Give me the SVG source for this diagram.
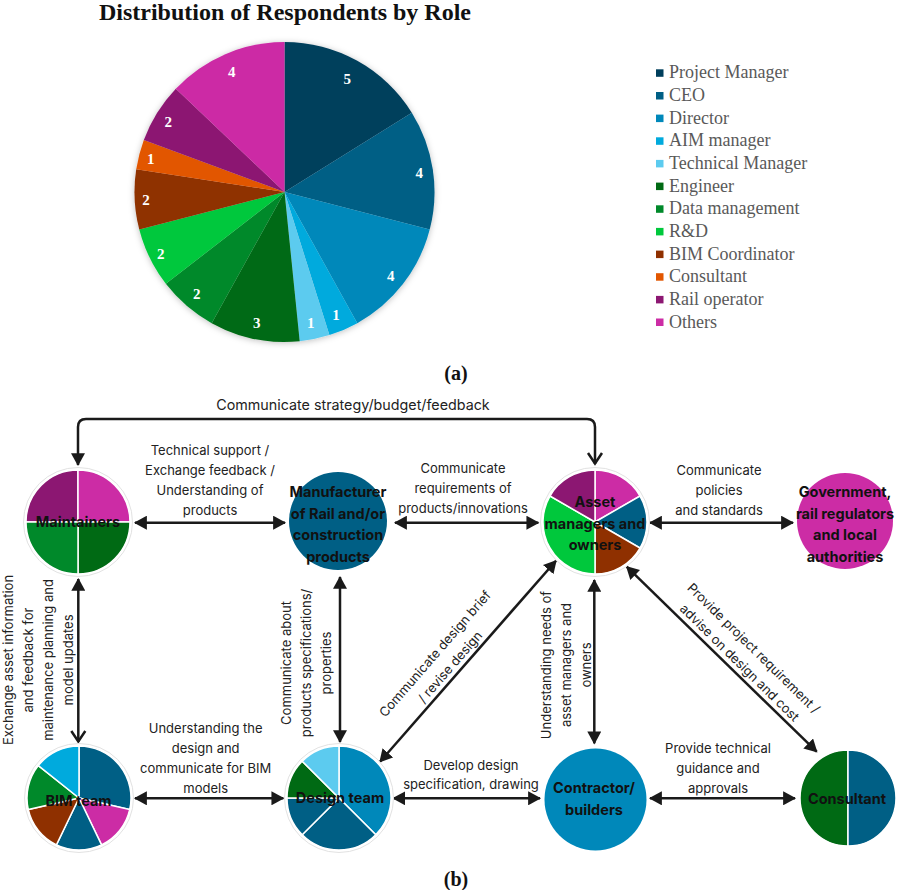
<svg xmlns="http://www.w3.org/2000/svg" width="899" height="890" viewBox="0 0 899 890">
<style>
.title{font-family:"Liberation Serif","Times New Roman",serif;font-weight:bold;font-size:24px;fill:#111;text-anchor:middle}
.num{font-family:"Liberation Serif","Times New Roman",serif;font-weight:bold;font-size:15px;fill:#fff;text-anchor:middle}
.leg{font-family:"Liberation Serif","Times New Roman",serif;font-size:18px;fill:#595959}
.cap{font-family:"Liberation Serif","Times New Roman",serif;font-weight:bold;font-size:20px;fill:#111;text-anchor:middle}
.nl{font-family:Inter,"Liberation Sans",Arial,sans-serif;font-weight:bold;font-size:14.5px;fill:#111;text-anchor:middle}
.el{font-family:Inter,"Liberation Sans",Arial,sans-serif;font-size:13px;fill:#222;text-anchor:middle}
.sec{stroke:#fff;stroke-width:1.5}
.ring{fill:#fff;stroke:#e2e2e2;stroke-width:1}
.con{fill:none;stroke:#1a1a1a;stroke-width:2.5}
.c-pm{fill:#003f5c}.c-ceo{fill:#005f85}.c-dir{fill:#0088ba}.c-aim{fill:#00aadd}.c-tech{fill:#5ccbef}
.c-eng{fill:#006a14}.c-data{fill:#00892a}.c-rd{fill:#00c83c}.c-bim{fill:#8f3000}.c-cons{fill:#e25600}
.c-rail{fill:#8c1772}.c-oth{fill:#cc2ca5}
</style>
<defs>
<marker id="fa" markerUnits="userSpaceOnUse" markerWidth="14" markerHeight="14" refX="11" refY="6.5" orient="auto-start-reverse" viewBox="0 0 13 13">
<path d="M0,0 L12,6.5 L0,13 z" fill="#1a1a1a"/>
</marker>
<marker id="oa" markerUnits="userSpaceOnUse" markerWidth="16" markerHeight="18" refX="11" refY="8" orient="auto-start-reverse" viewBox="-2 0 16 16">
<path d="M0,1 L10.5,8 L0,15" fill="none" stroke="#1a1a1a" stroke-width="2.5"/>
</marker>
<filter id="sh" x="-10%" y="-10%" width="120%" height="120%">
<feDropShadow dx="0" dy="1" stdDeviation="3" flood-color="#000" flood-opacity="0.25"/>
</filter>
</defs>
<rect width="899" height="890" fill="#fff"/>

<!-- (a) Pie chart -->
<g id="pie-chart">
<text class="title" x="285" y="20">Distribution of Respondents by Role</text>
<g filter="url(#sh)">
<path class="c-pm" d="M284.5,192 L284.5,42 A150,150 0 0,1 411.79,112.65 Z"/>
<path class="c-ceo" d="M284.5,192 L411.79,112.65 A150,150 0 0,1 429.72,229.6 Z"/>
<path class="c-dir" d="M284.5,192 L429.72,229.6 A150,150 0 0,1 357.3,323.15 Z"/>
<path class="c-aim" d="M284.5,192 L357.3,323.15 A150,150 0 0,1 329.41,335.12 Z"/>
<path class="c-tech" d="M284.5,192 L329.41,335.12 A150,150 0 0,1 299.68,341.23 Z"/>
<path class="c-eng" d="M284.5,192 L299.68,341.23 A150,150 0 0,1 211.7,323.15 Z"/>
<path class="c-data" d="M284.5,192 L211.7,323.15 A150,150 0 0,1 165.85,283.79 Z"/>
<path class="c-rd" d="M284.5,192 L165.85,283.79 A150,150 0 0,1 139.28,229.6 Z"/>
<path class="c-bim" d="M284.5,192 L139.28,229.6 A150,150 0 0,1 136.22,169.29 Z"/>
<path class="c-cons" d="M284.5,192 L136.22,169.29 A150,150 0 0,1 143.83,139.91 Z"/>
<path class="c-rail" d="M284.5,192 L143.83,139.91 A150,150 0 0,1 175.8,88.65 Z"/>
<path class="c-oth" d="M284.5,192 L175.8,88.65 A150,150 0 0,1 284.5,42 Z"/>
</g>
<text class="num" x="347.3" y="83.5">5</text>
<text class="num" x="419.3" y="177.5">4</text>
<text class="num" x="390.7" y="281">4</text>
<text class="num" x="336" y="319.5">1</text>
<text class="num" x="310.7" y="328">1</text>
<text class="num" x="256.7" y="328">3</text>
<text class="num" x="196.7" y="299">2</text>
<text class="num" x="160.7" y="258.5">2</text>
<text class="num" x="146" y="205">2</text>
<text class="num" x="150.7" y="163.5">1</text>
<text class="num" x="168.3" y="127">2</text>
<text class="num" x="231.7" y="77">4</text>
</g>

<g id="legend">
<rect class="c-pm" x="656" y="69.3" width="7.5" height="7.5"/><text class="leg" x="669" y="78.3">Project Manager</text>
<rect class="c-ceo" x="656" y="92" width="7.5" height="7.5"/><text class="leg" x="669" y="101">CEO</text>
<rect class="c-dir" x="656" y="114.6" width="7.5" height="7.5"/><text class="leg" x="669" y="123.6">Director</text>
<rect class="c-aim" x="656" y="137.3" width="7.5" height="7.5"/><text class="leg" x="669" y="146.3">AIM manager</text>
<rect class="c-tech" x="656" y="159.9" width="7.5" height="7.5"/><text class="leg" x="669" y="168.9">Technical Manager</text>
<rect class="c-eng" x="656" y="182.6" width="7.5" height="7.5"/><text class="leg" x="669" y="191.6">Engineer</text>
<rect class="c-data" x="656" y="205.3" width="7.5" height="7.5"/><text class="leg" x="669" y="214.3">Data management</text>
<rect class="c-rd" x="656" y="227.9" width="7.5" height="7.5"/><text class="leg" x="669" y="236.9">R&amp;D</text>
<rect class="c-bim" x="656" y="250.6" width="7.5" height="7.5"/><text class="leg" x="669" y="259.6">BIM Coordinator</text>
<rect class="c-cons" x="656" y="273.2" width="7.5" height="7.5"/><text class="leg" x="669" y="282.2">Consultant</text>
<rect class="c-rail" x="656" y="295.9" width="7.5" height="7.5"/><text class="leg" x="669" y="304.9">Rail operator</text>
<rect class="c-oth" x="656" y="318.5" width="7.5" height="7.5"/><text class="leg" x="669" y="327.5">Others</text>
</g>

<text class="cap" x="456" y="380">(a)</text>
<text class="cap" x="456" y="886">(b)</text>

<!-- (b) Network -->
<g id="connectors">
<path class="con" d="M595,464 L595,427 Q595,419 587,419 L86,419 Q78,419 78,427 L78,465" marker-start="url(#oa)" marker-end="url(#fa)"/>
<line class="con" x1="135" y1="522.7" x2="285" y2="522.7" marker-start="url(#fa)" marker-end="url(#fa)"/>
<line class="con" x1="395" y1="522.7" x2="538.3" y2="522.7" marker-start="url(#fa)" marker-end="url(#fa)"/>
<line class="con" x1="650" y1="522.7" x2="793" y2="522.7" marker-start="url(#fa)" marker-end="url(#fa)"/>
<line class="con" x1="78.3" y1="579" x2="78.3" y2="742" marker-start="url(#fa)" marker-end="url(#oa)"/>
<line class="con" x1="340" y1="577" x2="340" y2="742" marker-start="url(#fa)" marker-end="url(#fa)"/>
<line class="con" x1="135" y1="798.3" x2="283.3" y2="798.3" marker-start="url(#fa)" marker-end="url(#fa)"/>
<line class="con" x1="393.3" y1="798.3" x2="540" y2="798.3" marker-start="url(#fa)" marker-end="url(#fa)"/>
<line class="con" x1="594.3" y1="580" x2="594.3" y2="743.3" marker-start="url(#fa)" marker-end="url(#fa)"/>
<line class="con" x1="380" y1="761.7" x2="556" y2="560.7" marker-start="url(#fa)" marker-end="url(#fa)"/>
<line class="con" x1="626.7" y1="566.7" x2="816.7" y2="751.7" marker-start="url(#fa)" marker-end="url(#fa)"/>
<line class="con" x1="650" y1="798.3" x2="795" y2="798.3" marker-start="url(#fa)" marker-end="url(#fa)"/>

<text class="el" x="353" y="410" style="font-size:14.3px">Communicate strategy/budget/feedback</text>
<text class="el" x="210" y="455.2">Technical support /</text>
<text class="el" x="210" y="475.2">Exchange feedback /</text>
<text class="el" x="210" y="495.2">Understanding of</text>
<text class="el" x="210" y="515.2">products</text>
<text class="el" x="463" y="472.5">Communicate</text>
<text class="el" x="463" y="492.5">requirements of</text>
<text class="el" x="463" y="512.5">products/innovations</text>
<text class="el" x="719" y="474.5">Communicate</text>
<text class="el" x="719" y="494.5">policies</text>
<text class="el" x="719" y="514.5">and standards</text>
<g transform="translate(0,660) rotate(-90)">
<text class="el" x="0" y="12.8">Exchange asset information</text>
<text class="el" x="0" y="32.8">and feedback for</text>
<text class="el" x="0" y="52.8">maintenance planning and</text>
<text class="el" x="0" y="72.8">model updates</text>
</g>
<g transform="translate(0,663) rotate(-90)">
<text class="el" x="0" y="290.5">Communicate about</text>
<text class="el" x="0" y="310.5">products specifications/</text>
<text class="el" x="0" y="330.5">properties</text>
</g>
<text class="el" x="205.7" y="732.8">Understanding the</text>
<text class="el" x="205.7" y="752.8">design and</text>
<text class="el" x="205.7" y="772.8">communicate for BIM</text>
<text class="el" x="205.7" y="792.8">models</text>
<text class="el" x="471" y="769.5">Develop design</text>
<text class="el" x="471" y="789">specification, drawing</text>
<g transform="translate(0,665) rotate(-90)">
<text class="el" x="0" y="550.5">Understanding needs of</text>
<text class="el" x="0" y="570.5">asset managers and</text>
<text class="el" x="0" y="590.5">owners</text>
</g>
<g transform="translate(442.5,660.4) rotate(-49)">
<text class="el" x="0" y="-5.5">Communicate design brief</text>
<text class="el" x="0" y="14.5">/ revise design</text>
</g>
<g transform="translate(746.5,655.5) rotate(44.5)">
<text class="el" x="0" y="-5.5">Provide project requirement /</text>
<text class="el" x="0" y="14.5">advise on design and cost</text>
</g>
<text class="el" x="718" y="752.8">Provide technical</text>
<text class="el" x="718" y="772.8">guidance and</text>
<text class="el" x="718" y="792.8">approvals</text>
</g>

<g id="maintainers">
<circle class="ring" cx="78" cy="522" r="54.5"/>
<path class="c-rail sec" d="M78,522 L78,470 A52,52 0 0,0 26,522 Z"/>
<path class="c-oth sec" d="M78,522 L78,470 A52,52 0 0,1 130,522 Z"/>
<path class="c-eng sec" d="M78,522 L130,522 A52,52 0 0,1 78,574 Z"/>
<path class="c-data sec" d="M78,522 L78,574 A52,52 0 0,1 26,522 Z"/>
<text class="nl" x="78" y="527">Maintainers</text>
</g>

<g id="manufacturer">
<circle class="c-ceo" cx="338" cy="521" r="49"/>
<text class="nl" x="338" y="497">Manufacturer</text>
<text class="nl" x="338" y="518.5">of Rail and/or</text>
<text class="nl" x="338" y="540">construction</text>
<text class="nl" x="338" y="561.5">products</text>
</g>

<g id="asset-managers">
<circle class="ring" cx="595" cy="522" r="54.5"/>
<path class="c-oth sec" d="M595,522 L595,470 A52,52 0 0,1 640.03,496 Z"/>
<path class="c-ceo sec" d="M595,522 L640.03,496 A52,52 0 0,1 640.03,548 Z"/>
<path class="c-bim sec" d="M595,522 L640.03,548 A52,52 0 0,1 595,574 Z"/>
<path class="c-rd sec" d="M595,522 L595,574 A52,52 0 0,1 549.97,496 Z"/>
<path class="c-rail sec" d="M595,522 L549.97,496 A52,52 0 0,1 595,470 Z"/>
<text class="nl" x="595" y="507">Asset</text>
<text class="nl" x="595" y="528.5">managers and</text>
<text class="nl" x="595" y="550">owners</text>
</g>

<g id="government">
<circle class="c-oth" cx="845" cy="521" r="48"/>
<text class="nl" x="845" y="497">Government,</text>
<text class="nl" x="845" y="518.5">rail regulators</text>
<text class="nl" x="845" y="540">and local</text>
<text class="nl" x="845" y="561.5">authorities</text>
</g>

<g id="bim-team">
<circle class="ring" cx="79" cy="798" r="54.5"/>
<path class="c-ceo sec" d="M79,798 L79,746 A52,52 0 0,1 129.7,809.57 Z"/>
<path class="c-oth sec" d="M79,798 L129.7,809.57 A52,52 0 0,1 101.56,844.85 Z"/>
<path class="c-ceo sec" d="M79,798 L101.56,844.85 A52,52 0 0,1 56.44,844.85 Z"/>
<path class="c-bim sec" d="M79,798 L56.44,844.85 A52,52 0 0,1 28.3,809.57 Z"/>
<path class="c-data sec" d="M79,798 L28.3,809.57 A52,52 0 0,1 38.34,765.58 Z"/>
<path class="c-aim sec" d="M79,798 L38.34,765.58 A52,52 0 0,1 79,746 Z"/>
<text class="nl" x="78.5" y="806">BIM team</text>
</g>

<g id="design-team">
<circle class="ring" cx="339" cy="798" r="54.5"/>
<path class="c-dir sec" d="M339,798 L339,746 A52,52 0 0,1 375.77,834.77 Z"/>
<path class="c-ceo sec" d="M339,798 L375.77,834.77 A52,52 0 0,1 302.23,834.77 Z"/>
<path class="c-ceo sec" d="M339,798 L302.23,834.77 A52,52 0 0,1 287,798 Z"/>
<path class="c-eng sec" d="M339,798 L287,798 A52,52 0 0,1 302.23,761.23 Z"/>
<path class="c-tech sec" d="M339,798 L302.23,761.23 A52,52 0 0,1 339,746 Z"/>
<text class="nl" x="340" y="802.5">Design team</text>
</g>

<g id="contractor">
<circle class="c-dir" cx="595.5" cy="799.5" r="51"/>
<text class="nl" x="594" y="793">Contractor/</text>
<text class="nl" x="594" y="815">builders</text>
</g>

<g id="consultant">
<path class="c-eng sec" d="M848,798 L848,750 A48,48 0 0,0 848,846 Z"/>
<path class="c-ceo sec" d="M848,798 L848,750 A48,48 0 0,1 848,846 Z"/>
<text class="nl" x="847" y="804">Consultant</text>
</g>
</svg>
